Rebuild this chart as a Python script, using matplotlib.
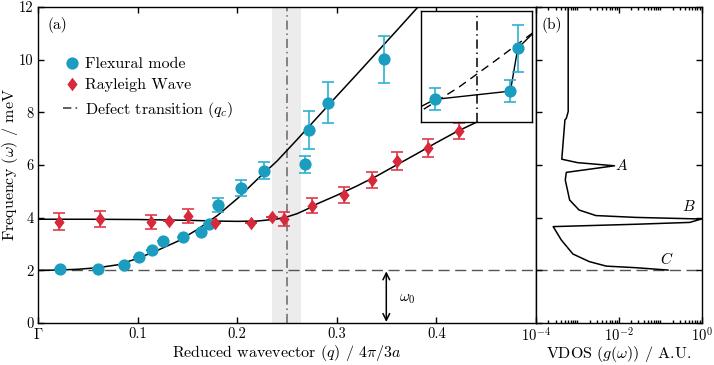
import numpy as np
import matplotlib
matplotlib.use("Agg")
import matplotlib.pyplot as plt
from matplotlib.path import Path
from matplotlib.lines import Line2D
from matplotlib.ticker import FixedLocator, NullFormatter

plt.rcParams['font.family'] = 'serif'
plt.rcParams['font.serif'] = ['cmr10']
plt.rcParams['mathtext.fontset'] = 'cm'
plt.rcParams['axes.formatter.use_mathtext'] = True
plt.rcParams['axes.linewidth'] = 1.0

# ---------------- data ----------------
flex_q = [0.022, 0.060, 0.086, 0.101, 0.114, 0.125, 0.146, 0.164, 0.172, 0.181,
          0.204, 0.227, 0.268, 0.272, 0.291, 0.347]
flex_w = [2.04, 2.04, 2.20, 2.50, 2.79, 3.10, 3.25, 3.45, 3.75, 4.47,
          5.12, 5.78, 6.03, 7.33, 8.37, 10.02]
flex_err = [0, 0, 0, 0, 0, 0, 0, 0, 0, 0.27, 0.30, 0.33, 0.33, 0.71, 0.77, 0.89]

ray_q = [0.021, 0.062, 0.113, 0.132, 0.151, 0.178, 0.214, 0.235, 0.247, 0.275,
         0.307, 0.335, 0.360, 0.392, 0.423]
ray_w = [3.85, 3.95, 3.85, 3.87, 4.06, 3.80, 3.81, 4.01, 3.95, 4.46,
         4.86, 5.43, 6.15, 6.65, 7.30]
ray_err = [0.32, 0.32, 0.27, 0, 0.27, 0, 0, 0, 0.28, 0.30, 0.30, 0.32, 0.35, 0.35, 0.31]

# fit curves
flex_fit_q = [0, 0.02, 0.04, 0.06, 0.08, 0.10, 0.12, 0.14, 0.16, 0.18, 0.20, 0.22,
              0.24, 0.26, 0.28, 0.30, 0.32, 0.34, 0.36, 0.3815]
flex_fit_w = [2.00, 2.01, 2.04, 2.10, 2.21, 2.45, 2.76, 3.10, 3.55, 4.08, 4.72, 5.45,
              6.15, 6.96, 7.79, 8.62, 9.44, 10.27, 11.10, 12.0]
ray_fit_q = [0, 0.05, 0.10, 0.15, 0.18, 0.20, 0.22, 0.24, 0.25, 0.26, 0.27, 0.28,
             0.30, 0.32, 0.34, 0.36, 0.38, 0.40, 0.42, 0.44]
ray_fit_w = [3.94, 3.94, 3.93, 3.90, 3.87, 3.86, 3.87, 3.95, 4.03, 4.15, 4.32, 4.52,
             4.85, 5.20, 5.58, 6.00, 6.42, 6.85, 7.26, 7.62]

q_c = 0.25
q_band = (0.235, 0.2645)
omega0 = 2.0

# VDOS (panel b)
vdos_g = [6.0e-4, 6.0e-4, 5.4e-4, 5.0e-4, 4.2e-4, 1.0e-3, 7.9e-3, 5.4e-4, 5.1e-4,
          6.5e-4, 1.1e-3, 2.8e-3, 2.6e-2, 0.52, 1.0, 0.52, 2.6e-2, 2.6e-4, 4.1e-4,
          7.8e-4, 1.95e-3, 5.0e-3, 2.6e-2, 0.155]
vdos_w = [12.0, 8.03, 7.77, 7.71, 6.22, 6.09, 5.97, 5.72, 5.43,
          4.67, 4.29, 4.08, 4.01, 3.96, 3.95, 3.82, 3.75, 3.66, 3.15,
          2.62, 2.33, 2.16, 2.10, 2.01]

x_ticks = [0, 0.1, 0.2, 0.3, 0.4]
x_ticklabels = [r'$\Gamma$', '0.1', '0.2', '0.3', '0.4']
y_ticks = [0, 2, 4, 6, 8, 10, 12]

# ---------------- style ----------------
blue = '#1a9dbf'
blue_err = '#2db0d2'
red = '#d8283b'
red_err = '#e0394b'
diamond = Path([(0, 1), (0.75, 0), (0, -1), (-0.75, 0), (0, 1)])

W, H = 714, 365
fig = plt.figure(figsize=(W / 100, H / 100), dpi=100)
L, R, B, T = 38, 536, 42, 358
RB = 701.5
ax = fig.add_axes([L / W, B / H, (R - L) / W, (T - B) / H])
axb = fig.add_axes([R / W, B / H, (RB - R) / W, (T - B) / H])

# main panel
ax.axvspan(*q_band, color='#ececec', lw=0, zorder=0)
ax.axvline(q_c, color='#666666', lw=1.1, dashes=(6, 2.5, 1, 2.5), zorder=1)
ax.axhline(omega0, color='#555555', lw=1.0, dashes=(8, 4), zorder=1)
ax.plot(flex_fit_q, flex_fit_w, color='black', lw=1.1, zorder=2)
ax.plot(ray_fit_q, ray_fit_w, color='black', lw=1.1, zorder=2)
ax.errorbar(flex_q, flex_w, yerr=flex_err, fmt='none', ecolor=blue_err,
            elinewidth=1.2, capsize=4, capthick=1.2, zorder=3)
ax.errorbar(ray_q, ray_w, yerr=ray_err, fmt='none', ecolor=red_err,
            elinewidth=1.2, capsize=4, capthick=1.2, zorder=3)
ax.plot(flex_q, flex_w, 'o', color=blue, ms=8.8, mec='none', zorder=4)
ax.plot(ray_q, ray_w, ls='none', marker=diamond, color=red, ms=9.8, mec='none', zorder=4)

ax.annotate('', xy=(0.3497, 0.04), xytext=(0.3497, 1.96),
            arrowprops=dict(arrowstyle='<->', lw=1.1, color='black',
                            shrinkA=0, shrinkB=0, mutation_scale=12))
ax.text(0.362, 0.92, r'$\omega_0$', fontsize=11, va='center', ha='left')
ax.text(0.0195, 0.943, '(a)', transform=ax.transAxes, fontsize=11, va='center', ha='left')

ax.set_xlim(0, 0.5)
ax.set_ylim(0, 12)
ax.xaxis.set_major_locator(FixedLocator(x_ticks))
ax.set_xticklabels(x_ticklabels)
ax.yaxis.set_major_locator(FixedLocator(y_ticks))
ax.set_yticklabels([str(v) for v in y_ticks])
ax.tick_params(direction='in', top=True, right=False, length=4, width=1.0,
               labelsize=10.5, pad=3)

handles = [
    Line2D([], [], ls='none', marker='o', color=blue, ms=8.8, mec='none'),
    Line2D([], [], ls='none', marker=diamond, color=red, ms=9.8, mec='none'),
    Line2D([], [], color='#444444', lw=1.2, dashes=(5, 2.5, 1, 2.5)),
]
labels = ['Flexural mode', 'Rayleigh Wave', r'Defect transition ($q_c$)']
ax.legend(handles, labels, loc='upper left', bbox_to_anchor=(0.05, 0.842),
          frameon=False, fontsize=11.5, handlelength=1.1, handletextpad=0.3,
          labelspacing=0.45, borderpad=0, borderaxespad=0)

# inset
ins = fig.add_axes([421 / W, (H - 122.3) / H, 111.3 / W, 111 / H])
ins.set_zorder(5)
ins.axvline(q_c, color='black', lw=1.1, dashes=(6, 2.5, 1, 2.5))
ins.plot(flex_fit_q, flex_fit_w, color='black', lw=1.0, dashes=(6, 4))
ins.plot(flex_q, flex_w, color='black', lw=1.0)
ins.errorbar(flex_q, flex_w, yerr=flex_err, fmt='none', ecolor=blue_err,
             elinewidth=1.2, capsize=4, capthick=1.2)
ins.plot(flex_q, flex_w, 'o', color=blue, ms=8.8, mec='none', zorder=4)
ins.set_xlim(0.2194, 0.2799)
ins.set_ylim(5.085, 8.449)
ins.set_xticks([])
ins.set_yticks([])
for s in ins.spines.values():
    s.set_linewidth(1.0)

# panel b
axb.axhline(omega0, color='#555555', lw=1.0, dashes=(8, 4), zorder=1)
axb.plot(vdos_g, vdos_w, color='black', lw=1.1, zorder=2)
axb.set_xscale('log')
axb.set_xlim(1e-4, 1)
axb.set_ylim(0, 12)
axb.xaxis.set_major_locator(FixedLocator([1e-4, 1e-2, 1]))
axb.set_xticklabels([r'$10^{-4}$', r'$10^{-2}$', r'$10^{0}$'])
minor = [k * 10.0 ** n for n in range(-4, 0) for k in range(1, 10) if not (k == 1 and n in (-4, -2))]
axb.xaxis.set_minor_locator(FixedLocator(minor))
axb.xaxis.set_minor_formatter(NullFormatter())
axb.yaxis.set_major_locator(FixedLocator(y_ticks))
axb.tick_params(which='both', direction='in', top=True, right=True, left=True,
                labelleft=False, labelsize=10.5, width=1.0, pad=2)
axb.tick_params(which='major', length=4)
axb.tick_params(which='minor', length=2)
axb.text(0.035, 0.943, '(b)', transform=axb.transAxes, fontsize=11, va='center', ha='left')
axb.text(7.9e-3 * 1.03, 5.97, r'$A$', fontsize=11, va='center', ha='left')
axb.text(0.33, 4.42, r'$B$', fontsize=11, va='center', ha='left')
axb.text(0.1, 2.42, r'$C$', fontsize=11, va='center', ha='left')

# axis labels placed at fixed figure positions
fig.text((L + R) / 2 / W, 1 - 353 / H, r'Reduced wavevector $(q)$ / $4\pi/3a$',
         fontsize=11.5, ha='center', va='center')
fig.text((R + RB) / 2 / W, 1 - 354 / H, r'VDOS $(g(\omega))$ / A.U.',
         fontsize=11.5, ha='center', va='center')
fig.text(10 / W, 1 - 165 / H, r'Frequency $(\omega)$ / meV', fontsize=11.5,
         ha='center', va='center', rotation=90)

fig.savefig('out.png', dpi=100)
